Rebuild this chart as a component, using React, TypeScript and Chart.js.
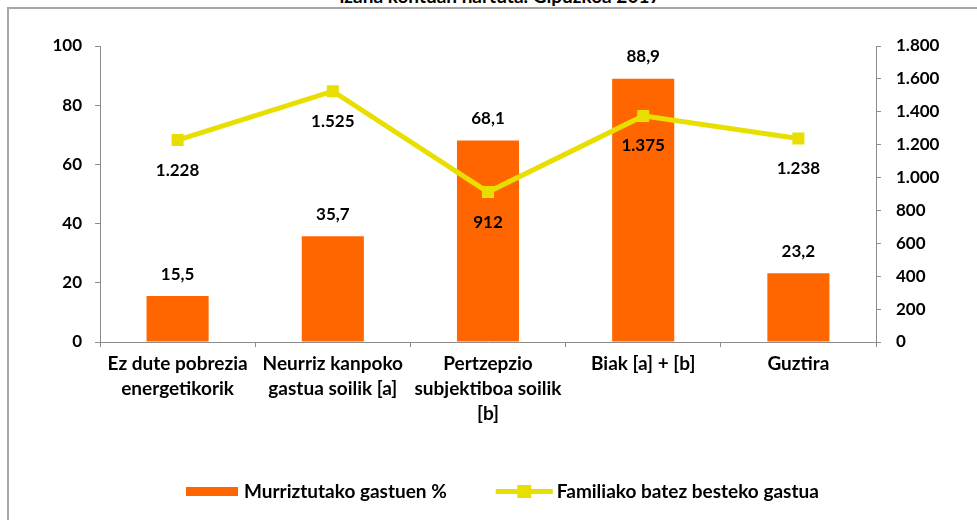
import React, { useEffect, useRef } from "react";
import { Chart, registerables } from "chart.js";
Chart.register(...registerables);

const titleText = "izana kontuan hartuta. Gipuzkoa 2017";
const categories: (string | string[])[] = [
  ["Ez dute pobrezia", "energetikorik"],
  ["Neurriz kanpoko", "gastua soilik [a]"],
  ["Pertzepzio", "subjektiboa soilik", "[b]"],
  "Biak [a] + [b]",
  "Guztira",
];
const barLabel = "Murriztutako gastuen %";
const barValues = [15.5, 35.7, 68.1, 88.9, 23.2];
const lineLabel = "Familiako batez besteko gastua";
const lineValues = [1228, 1525, 912, 1375, 1238];
const leftMax = 100;
const leftStep = 20;
const rightMax = 1800;
const rightStep = 200;

const FONT = "Lato, 'DejaVu Sans', sans-serif";
const ORANGE = "#FF6600";
const YELLOW = "#E8DF00";
const AXIS = "#8C8C8C";

const fmtThousands = (v: number) =>
  String(Math.round(v)).replace(/\B(?=(\d{3})+(?!\d))/g, ".");
const fmtDecimal = (v: number) => v.toFixed(1).replace(".", ",");

const dataLabelPlugin = {
  id: "dataLabels",
  afterDatasetsDraw(chart: any) {
    const ctx = chart.ctx;
    ctx.save();
    ctx.font = `bold 17px ${FONT}`;
    ctx.fillStyle = "#000";
    ctx.textAlign = "center";
    ctx.textBaseline = "middle";
    chart.data.datasets.forEach((ds: any, i: number) => {
      const meta = chart.getDatasetMeta(i);
      meta.data.forEach((el: any, j: number) => {
        const v = ds.data[j];
        if (ds.type === "bar") {
          ctx.fillText(fmtDecimal(v), el.x, el.y - 22);
        } else {
          ctx.fillText(fmtThousands(v), el.x, el.y + 30);
        }
      });
    });
    ctx.restore();
  },
};

const legendPlugin = {
  id: "customLegend",
  afterDraw(chart: any) {
    const ctx = chart.ctx;
    ctx.save();
    ctx.font = `bold 19px ${FONT}`;
    ctx.textBaseline = "middle";
    ctx.textAlign = "left";
    const cy = 491.5;
    let x = 186;
    chart.data.datasets.forEach((ds: any) => {
      if (ds.type === "bar") {
        ctx.fillStyle = ds.backgroundColor;
        ctx.fillRect(x, cy - 4.5, 52, 9);
        x += 52 + 6;
      } else {
        ctx.strokeStyle = ds.borderColor;
        ctx.lineWidth = 5;
        ctx.beginPath();
        ctx.moveTo(x, cy);
        ctx.lineTo(x + 57, cy);
        ctx.stroke();
        ctx.fillStyle = ds.borderColor;
        ctx.fillRect(x + 28.5 - 7, cy - 6.5, 14, 13);
        x += 57 + 4;
      }
      ctx.fillStyle = "#000";
      ctx.fillText(ds.label, x, cy);
      x += ctx.measureText(ds.label).width + 49;
    });
    ctx.restore();
  },
};

export default function App() {
  const ref = useRef<HTMLCanvasElement | null>(null);
  useEffect(() => {
    if (!ref.current) return;
    const tickFont = { family: FONT, size: 17, weight: "bold" as const };
    const chart = new Chart(ref.current, {
      type: "bar",
      data: {
        labels: categories,
        datasets: [
          {
            type: "bar" as const,
            label: barLabel,
            data: barValues,
            yAxisID: "y",
            backgroundColor: ORANGE,
            barPercentage: 0.8,
            categoryPercentage: 0.5,
            order: 1,
          },
          {
            type: "line" as const,
            label: lineLabel,
            data: lineValues,
            yAxisID: "y1",
            borderColor: YELLOW,
            backgroundColor: YELLOW,
            borderWidth: 5,
            pointStyle: "rect",
            pointRadius: 8.5,
            pointHoverRadius: 8.5,
            pointBackgroundColor: YELLOW,
            pointBorderWidth: 0,
            tension: 0,
            order: 0,
          },
        ],
      },
      options: {
        responsive: false,
        animation: false,
        layout: { padding: { top: 46, left: 0, right: 0, bottom: 0 } },
        plugins: {
          legend: { display: false },
          title: { display: false },
          tooltip: { enabled: false },
        },
        scales: {
          x: {
            offset: true,
            grid: {
              display: true,
              drawOnChartArea: false,
              drawTicks: true,
              tickLength: 5,
              color: AXIS,
              offset: true,
            },
            border: { color: AXIS },
            ticks: {
              font: { family: FONT, size: 19, weight: "bold", lineHeight: "25px" } as any,
              color: "#000",
              padding: 4,
              maxRotation: 0,
              autoSkip: false,
            },
            afterFit: (s: any) => {
              s.height = 178;
            },
          },
          y: {
            position: "left",
            min: 0,
            max: leftMax,
            ticks: { stepSize: leftStep, font: tickFont, color: "#000", padding: 13 },
            grid: { drawOnChartArea: false, drawTicks: true, tickLength: 5, color: AXIS },
            border: { color: AXIS },
            afterFit: (s: any) => {
              s.width = 100;
            },
          },
          y1: {
            position: "right",
            min: 0,
            max: rightMax,
            ticks: {
              stepSize: rightStep,
              font: tickFont,
              color: "#000",
              padding: 15,
              callback: (v: any) => fmtThousands(Number(v)),
            },
            grid: { drawOnChartArea: false, drawTicks: true, tickLength: 5, color: AXIS },
            border: { color: AXIS },
            afterFit: (s: any) => {
              s.width = 101;
            },
          },
        },
      },
      plugins: [dataLabelPlugin, legendPlugin],
    });
    return () => chart.destroy();
  }, []);

  return (
    <div
      style={{
        position: "fixed",
        left: 0,
        top: 0,
        width: 977,
        height: 520,
        overflow: "hidden",
        background: "#fff",
      }}
    >
      <div
        style={{
          position: "absolute",
          left: 0,
          top: -14,
          width: 1000,
          textAlign: "center",
          fontFamily: FONT,
          fontWeight: "bold",
          fontSize: 19,
          lineHeight: "19px",
          color: "#000",
          whiteSpace: "nowrap",
        }}
      >
        {titleText}
      </div>
      <div
        style={{
          position: "absolute",
          left: 7,
          top: 7,
          width: 1100,
          height: 700,
          borderLeft: "2px solid #A6A6A6",
          borderTop: "2px solid #A6A6A6",
        }}
      />
      <canvas
        ref={ref}
        width={977}
        height={520}
        style={{ position: "absolute", left: 0, top: 0, width: 977, height: 520 }}
      />
    </div>
  );
}
